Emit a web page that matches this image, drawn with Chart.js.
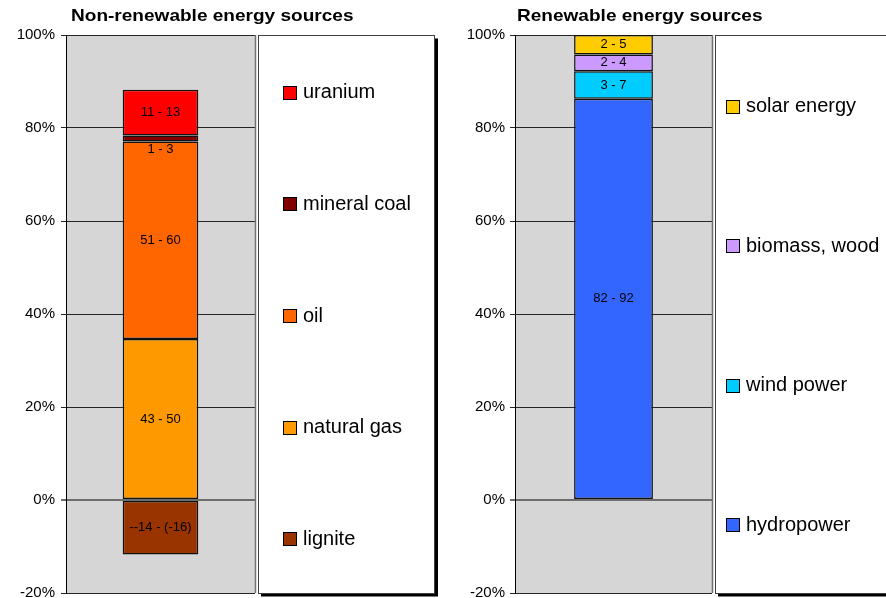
<!DOCTYPE html>
<html>
<head>
<meta charset="utf-8">
<title>Energy sources</title>
<script src="https://cdn.jsdelivr.net/npm/chart.js@4.4.1/dist/chart.umd.min.js"></script>
<style>
  html, body { margin: 0; padding: 0; background: #fff; }
  #wrap { position: relative; width: 886px; height: 598px; overflow: hidden; }
  canvas { position: absolute; top: 0; }
</style>
</head>
<body>
<div id="wrap">
  <canvas id="nonRenewable" width="443" height="598" style="left:0"></canvas>
  <canvas id="renewable" width="443" height="598" style="left:443px"></canvas>
</div>
<script>
// Shares of each source in the stacked column (percent of the column)
const nonRenewableSources = ['lignite', 'natural gas', 'oil', 'mineral coal', 'uranium'];
const nonRenewableShares  = [-11.7, 34.6, 42.5, 1.3, 9.8];
const nonRenewableRanges  = ['--14 - (-16)', '43 - 50', '51 - 60', '1 - 3', '11 - 13'];

const renewableSources = ['hydropower', 'wind power', 'biomass, wood', 'solar energy'];
const renewableShares  = [86.3, 5.9, 3.6, 4.2];
const renewableRanges  = ['82 - 92', '3 - 7', '2 - 4', '2 - 5'];

const axisTicks = [-20, 0, 20, 40, 60, 80, 100];

// Fill colours
const nonRenewableColors = ['#993300', '#FF9900', '#FF6600', '#800000', '#FF0000'];
const renewableColors    = ['#3366FF', '#00CCFF', '#CC99FF', '#FFCC00'];

const FONT = '"Liberation Sans", Arial, Helvetica, sans-serif';

// Plot background, range labels, title and boxed legend
const panelPlugin = {
  id: 'panel',
  beforeDraw(chart) {
    const { ctx, chartArea: a } = chart;
    ctx.save();
    ctx.fillStyle = '#D6D6D6';
    ctx.fillRect(a.left, a.top, a.right - a.left, a.bottom - a.top);
    ctx.restore();
  },
  afterDatasetsDraw(chart) {
    const ctx = chart.ctx;
    ctx.save();
    ctx.font = '13px ' + FONT;
    ctx.fillStyle = '#000';
    ctx.textAlign = 'center';
    ctx.textBaseline = 'middle';
    chart.data.datasets.forEach((ds, i) => {
      const el = chart.getDatasetMeta(i).data[0];
      const { x, y, base } = el.getProps(['x', 'y', 'base'], true);
      const top = Math.min(y, base), bottom = Math.max(y, base);
      let cy = (top + bottom) / 2;
      if (bottom - top < 12) cy = bottom + 7.5;   // thin segment: label just below it
      ctx.fillText(ds.rangeLabel, x, cy);
    });
    ctx.restore();
  },
  afterDraw(chart, args, opts) {
    const { ctx, chartArea: a } = chart;
    ctx.save();

    // right edge of the plot area
    ctx.strokeStyle = '#707070';
    ctx.lineWidth = 1.5;
    ctx.beginPath();
    ctx.moveTo(a.right + 0.5, a.top);
    ctx.lineTo(a.right + 0.5, a.bottom);
    ctx.stroke();

    // title
    ctx.save();
    ctx.font = 'bold 17px ' + FONT;
    ctx.fillStyle = '#000';
    ctx.textBaseline = 'alphabetic';
    ctx.translate(opts.titleX, 21);
    ctx.scale(1.12, 1);
    ctx.fillText(opts.title, 0, 0);
    ctx.restore();

    // legend box with drop shadow
    const bx = Math.round(a.right) + 3;
    const by = Math.round(a.top) + 0.5;
    const bw = opts.legendWidth;
    const bh = Math.round(a.bottom - a.top);
    ctx.fillStyle = '#000';
    ctx.fillRect(bx + 3, by + 3, bw, bh);
    ctx.fillStyle = '#fff';
    ctx.fillRect(bx, by, bw, bh);
    ctx.strokeStyle = '#404040';
    ctx.lineWidth = 1;
    ctx.strokeRect(bx + 0.5, by, bw - 1, bh);

    // legend entries, top series first, evenly spread over the box
    ctx.font = '20px ' + FONT;
    const items = chart.data.datasets.slice().reverse();
    const maxW = Math.max(...items.map(d => ctx.measureText(d.label).width));
    const ex = Math.round(bx + (bw - (maxW + 20)) / 2);
    const slot = bh / items.length;
    items.forEach((d, k) => {
      const cy = by + slot * (k + 0.5) + 1.5;
      const sy = Math.round(cy - 7) + 0.5;
      ctx.fillStyle = d.backgroundColor;
      ctx.fillRect(ex + 0.5, sy, 13, 13);
      ctx.strokeStyle = '#000';
      ctx.strokeRect(ex + 0.5, sy, 13, 13);
      ctx.fillStyle = '#000';
      ctx.textAlign = 'left';
      ctx.textBaseline = 'middle';
      ctx.fillText(d.label, ex + 20, cy);
    });
    ctx.restore();
  }
};

function makeChart(id, sources, shares, ranges, colors, cfg) {
  return new Chart(document.getElementById(id), {
    type: 'bar',
    data: {
      labels: [''],
      datasets: sources.map((s, i) => ({
        label: s,
        data: [shares[i]],
        rangeLabel: ranges[i],
        backgroundColor: colors[i],
        borderColor: '#111',
        borderWidth: 1.5,
        borderSkipped: false,
        barPercentage: 0.4,
        categoryPercentage: 1
      }))
    },
    options: {
      responsive: false,
      animation: false,
      events: [],
      layout: { padding: { top: 35, bottom: 5, left: 0, right: cfg.padRight } },
      plugins: {
        legend: { display: false },
        tooltip: { enabled: false },
        panel: { title: cfg.title, titleX: cfg.titleX, legendWidth: cfg.legendWidth }
      },
      scales: {
        x: { stacked: true, display: false },
        y: {
          stacked: true,
          min: axisTicks[0],
          max: axisTicks[axisTicks.length - 1],
          afterBuildTicks(s) { s.ticks = axisTicks.map(v => ({ value: v })); },
          ticks: {
            callback: v => v + '%',
            color: '#000',
            font: { size: 15, family: FONT },
            padding: cfg.tickPad
          },
          grid: {
            color: c => (c.tick && c.tick.value === 0 ? '#6E6E6E' : '#262626'),
            lineWidth: c => (c.tick && c.tick.value === 0 ? 2 : 1),
            tickLength: 5,
            drawTicks: true
          },
          border: { display: true, color: '#000', width: 1 },
          afterFit(s) { s.width = cfg.axisWidth; s.paddingTop = 0; s.paddingBottom = 0; }
        }
      }
    },
    plugins: [panelPlugin]
  });
}

makeChart('nonRenewable', nonRenewableSources, nonRenewableShares, nonRenewableRanges, nonRenewableColors, {
  title: 'Non-renewable energy sources', titleX: 71, padRight: 188, axisWidth: 66, tickPad: 6, legendWidth: 177
});
makeChart('renewable', renewableSources, renewableShares, renewableRanges, renewableColors, {
  title: 'Renewable energy sources', titleX: 74, padRight: 174, axisWidth: 72, tickPad: 5, legendWidth: 175
});
</script>
</body>
</html>
